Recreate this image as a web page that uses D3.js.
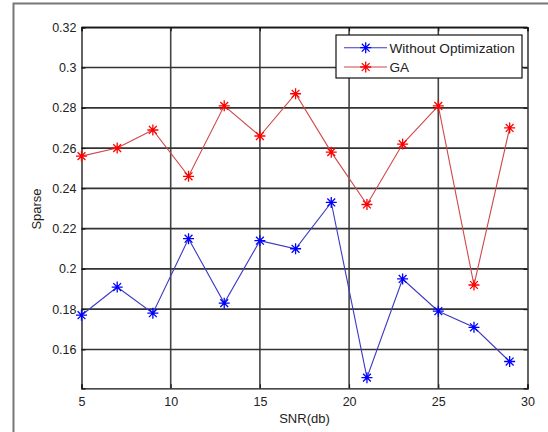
<!DOCTYPE html>
<html>
<head>
<meta charset="utf-8">
<script src="https://cdn.jsdelivr.net/npm/d3@7"></script>
<style>
  body { margin: 0; background: #fff; }
  text { font-family: "Liberation Sans", Arial, sans-serif; fill: #222; }
</style>
</head>
<body>
<script>
var width = 548,
    height = 432;

// data
var snr = [5, 7, 9, 11, 13, 15, 17, 19, 21, 23, 25, 27, 29];
var withoutOpt = [0.177, 0.191, 0.178, 0.215, 0.183, 0.214, 0.210, 0.233, 0.146, 0.195, 0.179, 0.171, 0.154];
var ga = [0.256, 0.260, 0.269, 0.246, 0.281, 0.266, 0.287, 0.258, 0.232, 0.262, 0.281, 0.192, 0.270];
var xTicks = [5, 10, 15, 20, 25, 30];
var yTicks = [0.16, 0.18, 0.2, 0.22, 0.24, 0.26, 0.28, 0.3, 0.32];
var seriesNames = ["Without Optimization", "GA"];

var pLeft = 81.5, pRight = 527.5, pTop = 27.3, pBottom = 388.3;

var svg = d3.select("body").append("svg")
    .attr("width", width)
    .attr("height", height);

// outer figure frame
svg.append("rect")
    .attr("x", 13.5).attr("y", 3.5)
    .attr("width", 560).attr("height", 460)
    .attr("fill", "none")
    .attr("stroke", "#777")
    .attr("stroke-width", 2);

var x = d3.scaleLinear().domain([5, 30]).range([pLeft, pRight]);
var y = d3.scaleLinear().domain([0.1407, 0.32]).range([pBottom, pTop]);

// grid
svg.append("g").selectAll("line").data(xTicks.slice(1, -1))
    .enter().append("line")
    .attr("x1", function (d) { return x(d); })
    .attr("x2", function (d) { return x(d); })
    .attr("y1", pTop).attr("y2", pBottom)
    .attr("stroke", "#444").attr("stroke-width", 1.6);
svg.append("g").selectAll("line").data(yTicks)
    .enter().append("line")
    .attr("x1", pLeft).attr("x2", pRight)
    .attr("y1", function (d) { return y(d); })
    .attr("y2", function (d) { return y(d); })
    .attr("stroke", "#333").attr("stroke-width", 1.6);

// axes (MATLAB style, ticks inward, box on)
var xAxis = d3.axisBottom(x).tickValues(xTicks).tickSize(-4).tickPadding(9).tickFormat(d3.format("d"));
var yAxis = d3.axisLeft(y).tickValues(yTicks).tickSize(-4).tickPadding(5).tickFormat(function (d) { return String(+d.toFixed(2)); });

var gx = svg.append("g").attr("transform", "translate(0," + pBottom + ")").call(xAxis);
var gy = svg.append("g").attr("transform", "translate(" + pLeft + ",0)").call(yAxis);
svg.append("g").attr("transform", "translate(0," + pTop + ")")
    .call(d3.axisTop(x).tickValues(xTicks).tickSize(-4).tickFormat(""));
svg.append("g").attr("transform", "translate(" + pRight + ",0)")
    .call(d3.axisRight(y).tickValues(yTicks).tickSize(-4).tickFormat(""));

svg.selectAll(".domain").attr("stroke", "#111").attr("stroke-width", 1.3);
svg.selectAll(".tick line").attr("stroke", "#111");
gx.selectAll("text").style("font-size", "12.5px").attr("fill", "#333");
gy.selectAll("text").style("font-size", "12.5px").attr("fill", "#333");

svg.append("text")
    .attr("x", (pLeft + pRight) / 2).attr("y", 423)
    .attr("text-anchor", "middle")
    .style("font-size", "13px")
    .attr("fill", "#333")
    .text("SNR(db)");
svg.append("text")
    .attr("transform", "translate(41,209) rotate(-90)")
    .attr("text-anchor", "middle")
    .style("font-size", "13px")
    .attr("fill", "#333")
    .text("Sparse");

function star(g, cx, cy, color) {
    var r = 5.5, d = 3.9;
    g.append("path")
        .attr("d", "M" + (cx - r) + "," + cy + "H" + (cx + r) +
                   "M" + cx + "," + (cy - r) + "V" + (cy + r) +
                   "M" + (cx - d) + "," + (cy - d) + "L" + (cx + d) + "," + (cy + d) +
                   "M" + (cx - d) + "," + (cy + d) + "L" + (cx + d) + "," + (cy - d))
        .attr("stroke", color).attr("stroke-width", 1.3).attr("fill", "none");
}

var line = d3.line()
    .x(function (d) { return x(d[0]); })
    .y(function (d) { return y(d[1]); });

var series = [
    { name: seriesNames[0], values: withoutOpt, line: "#3a3ac4", mark: "#0000ff" },
    { name: seriesNames[1], values: ga, line: "#d04848", mark: "#ff0000" }
];

series.forEach(function (s) {
    var pts = snr.map(function (v, i) { return [v, s.values[i]]; });
    svg.append("path").datum(pts)
        .attr("d", line)
        .attr("fill", "none")
        .attr("stroke", s.line)
        .attr("stroke-width", 1.1);
    var g = svg.append("g");
    pts.forEach(function (p) { star(g, x(p[0]), y(p[1]), s.mark); });
});

// legend
var leg = svg.append("g");
leg.append("rect")
    .attr("x", 336).attr("y", 35)
    .attr("width", 186).attr("height", 43)
    .attr("fill", "#fff")
    .attr("stroke", "#111").attr("stroke-width", 1.2);
series.forEach(function (s, i) {
    var ly = 47.7 + i * 19.3;
    leg.append("line")
        .attr("x1", 344).attr("x2", 387)
        .attr("y1", ly).attr("y2", ly)
        .attr("stroke", s.line).attr("stroke-width", 1.1);
    star(leg, 365.7, ly, s.mark);
    leg.append("text")
        .attr("x", 389.5).attr("y", ly + 5)
        .style("font-size", "13.6px")
        .attr("fill", "#333")
        .text(s.name);
});
</script>
</body>
</html>
